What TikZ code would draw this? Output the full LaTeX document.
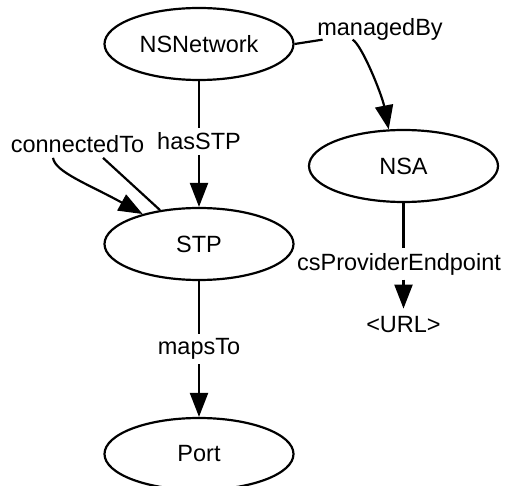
\documentclass[tikz,border=0pt]{standalone}
\usepackage{fontspec}
\setmainfont{Liberation Sans}
\usetikzlibrary{arrows.meta,shapes.geometric}
\begin{document}
\begin{tikzpicture}[x=1pt,y=-1pt,
  every node/.style={font=\fontsize{23.5}{28}\selectfont},
  ent/.style={draw,ellipse,line width=2.2pt,minimum width=189pt,minimum height=72pt,inner sep=0pt},
  lbl/.style={inner sep=4.5pt},
  link/.style={line width=2.2pt},
  arr/.style={link,-{Triangle[length=24pt,width=18pt]}}]
\useasboundingbox (0,0) rectangle (506,486);
% entities
\node[ent] (nsn)  at (199,44)    {NSNetwork};
\node[ent] (nsa)  at (403.5,166) {NSA};
\node[ent] (stp)  at (199,244)   {STP};
\node[ent] (port) at (199,454)   {Port};
% labels
\node[lbl] (hasstp) at (199,141.5) {hasSTP};
\node[lbl] (maps)   at (199,349)   {mapsTo};
\node[lbl] (mb)     at (380,29)    {managedBy};
\node[lbl] (ct)     at (77.5,144.5){connectedTo};
\node[lbl] (cspe)   at (399,264)   {csProviderEndpoint};
\node[inner sep=8pt] (url) at (403.5,325) {<URL>};
% hasSTP
\draw[link] (nsn) -- (hasstp);
\draw[arr] (hasstp) -- (stp);
% mapsTo
\draw[link] (stp) -- (maps);
\draw[arr] (maps) -- (port);
% managedBy
\draw[link] (nsn.east) -- ([shift={(10,-5)}]mb.south west);
\draw[arr] ([shift={(40,-5)}]mb.south west) .. controls (362,45) and (382,95) .. (nsa.112);
% csProviderEndpoint
\draw[link] (nsa.south) -- (cspe.north -| nsa.south);
\draw[arr] (cspe.south -| nsa.south) -- (url.north);
% connectedTo (self loop)
\draw[link] (stp.139) -- ([xshift=25.5pt]ct.south);
\draw[arr] ([xshift=-24.5pt]ct.south) .. controls (55,172) and (88,184) .. (stp.152);
\end{tikzpicture}
\end{document}
